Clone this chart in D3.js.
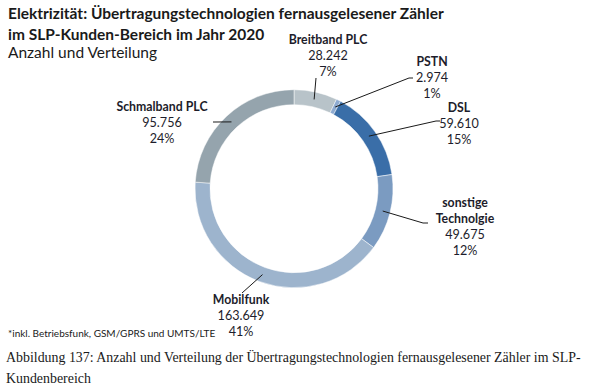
<!DOCTYPE html>
<html><head><meta charset="utf-8">
<script src="https://cdn.jsdelivr.net/npm/d3@7"></script>
<style>
body{margin:0;background:#fff;}
svg{display:block;}
</style></head>
<body>
<svg id="chart" width="600" height="390"></svg>
<script>
// ---- data ----
const categories = ["Breitband PLC", "PSTN", "DSL", "sonstige Technolgie", "Mobilfunk", "Schmalband PLC"];
const nameLines = [["Breitband PLC"], ["PSTN"], ["DSL"], ["sonstige", "Technolgie"], ["Mobilfunk"], ["Schmalband PLC"]];
const values = [28242, 2974, 59610, 49675, 163649, 95756];
const valueLabels = ["28.242", "2.974", "59.610", "49.675", "163.649", "95.756"];
const percentLabels = ["7%", "1%", "15%", "12%", "41%", "24%"];
const colors = ["#b8c3c9", "#8eaad0", "#3a6ea8", "#7b9bc1", "#9db4cd", "#95a4ad"];

// ---- layout (label anchors & leader elbows) ----
const labelPos = [[328, 44], [432, 66], [459, 112], [465, 207], [241, 304], [162, 111]];
const elbow = [[316, 78], [409, 78], [436, 121], [423, 223], [242, 293], [215, 122]];
const elbowEnd = [[316, 78], [413, 78], [440, 121], [428, 223], [242, 293], [213, 122]];

const svg = d3.select("#chart");
const cx = 294, cy = 188.7, rOuter = 99, rInner = 84;
const g = svg.append("g").attr("transform", `translate(${cx},${cy})`);

const pie = d3.pie().sort(null).value(d => d)(values);
const arc = d3.arc().innerRadius(rInner).outerRadius(rOuter);
const midArc = d3.arc().innerRadius((rInner + rOuter) / 2).outerRadius((rInner + rOuter) / 2);

g.selectAll("path.seg").data(pie).join("path")
  .attr("class", "seg")
  .attr("d", arc)
  .attr("fill", (d, i) => colors[i])
  .attr("stroke", "#fff").attr("stroke-width", 0.5);

// leader lines
const line = d3.line();
pie.forEach((d, i) => {
  const c = midArc.centroid(d);
  const p0 = [c[0] + cx, c[1] + cy];
  svg.append("path")
    .attr("d", line([p0, elbow[i], elbowEnd[i]]))
    .attr("fill", "none").attr("stroke", "#1a1a1a").attr("stroke-width", 1);
});

const font = "Lato, 'Open Sans', sans-serif";
const txtColor = "#1d1d2b";
// labels
categories.forEach((c, i) => {
  const [x, y] = labelPos[i];
  const t = svg.append("text").attr("x", x).attr("y", y)
    .attr("text-anchor", "middle").attr("font-family", font)
    .attr("font-size", 12.3).attr("fill", txtColor);
  nameLines[i].forEach((ln, j) => {
    t.append("tspan").attr("x", x).attr("dy", j === 0 ? 0 : 15.5).attr("font-weight", 700).text(ln);
  });
  t.append("tspan").attr("x", x).attr("dy", 16).attr("font-size", 12.6).text(valueLabels[i]);
  t.append("tspan").attr("x", x).attr("dy", 16).attr("font-size", 12.6).text(percentLabels[i]);
});

// title
const title = svg.append("text").attr("font-family", font).attr("fill", "#1a1a1a");
title.append("tspan").attr("x", 8).attr("y", 19).attr("font-size", 15.5).attr("font-weight", 700)
  .text("Elektrizität: Übertragungstechnologien fernausgelesener Zähler");
title.append("tspan").attr("x", 8).attr("y", 40).attr("font-size", 15.5).attr("font-weight", 700)
  .text("im SLP-Kunden-Bereich im Jahr 2020");
title.append("tspan").attr("x", 8).attr("y", 58).attr("font-size", 15.5)
  .text("Anzahl und Verteilung");

// footnote
svg.append("text").attr("x", 8).attr("y", 337).attr("font-family", font)
  .attr("font-size", 10).attr("fill", "#1a1a1a")
  .text("*inkl. Betriebsfunk, GSM/GPRS und UMTS/LTE");

// caption
const cap = svg.append("text").attr("font-family", "'Liberation Serif', 'DejaVu Serif', serif")
  .attr("font-size", 13.9).attr("fill", "#1a1a1a");
cap.append("tspan").attr("x", 6).attr("y", 362)
  .text("Abbildung 137: Anzahl und Verteilung der Übertragungstechnologien fernausgelesener Zähler im SLP-");
cap.append("tspan").attr("x", 6).attr("y", 383).text("Kundenbereich");
</script>
</body></html>
